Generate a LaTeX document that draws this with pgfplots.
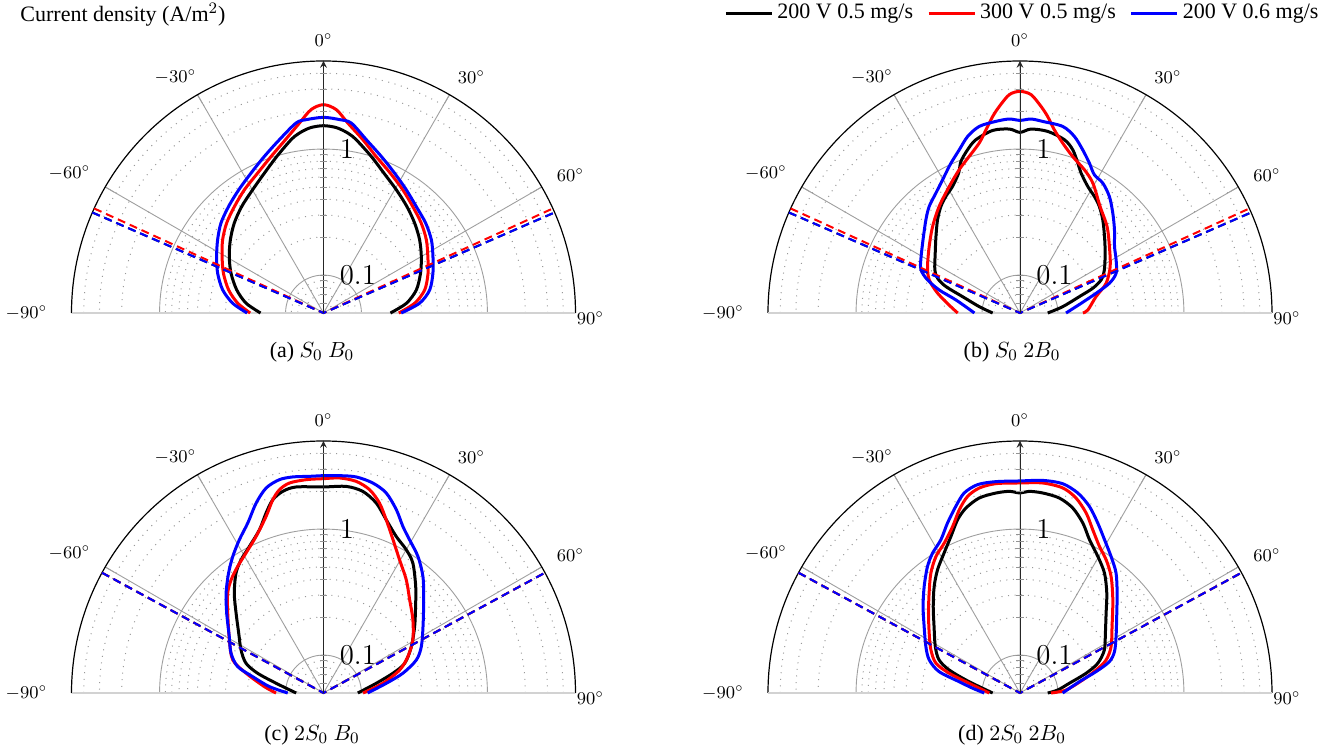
\documentclass[border=0pt]{standalone}
\usepackage{fontspec}
\setmainfont{Liberation Serif}
\usepackage{pgfplots}
\usepackage{pgfplotstable}
\pgfplotsset{compat=1.18}
\usepgfplotslibrary{polar}

% ---------- data: angle t (deg, 0 = axis, + to the right), current density r (A/m^2)
\pgfplotstableread{
t r
-90 0.158
-82.8 0.208
-75.1 0.258
-66.7 0.315
-59.1 0.372
-51.9 0.435
-44.8 0.506
-37.5 0.582
-29.9 0.672
-22.9 0.802
-16.6 0.990
-10.6 1.253
-7.6 1.381
-4 1.491
0 1.533
4 1.491
7.7 1.381
10.7 1.254
17.0 0.995
23.3 0.811
30.6 0.684
38.1 0.592
45.4 0.519
52.7 0.455
60.0 0.394
67.7 0.340
76.1 0.287
83.3 0.230
90 0.170
}\aK
\pgfplotstableread{
t r
-90 0.191
-83.5 0.242
-76.3 0.298
-68.3 0.358
-60.9 0.417
-54.1 0.487
-47.2 0.559
-39.9 0.632
-32.7 0.726
-25.2 0.844
-18.5 1.021
-12.4 1.279
-7.2 1.655
-3.5 2.070
0 2.251
3.6 2.070
7.3 1.655
12.8 1.286
18.6 1.022
25.5 0.850
32.8 0.727
40.0 0.633
47.4 0.566
54.6 0.502
61.6 0.437
69.2 0.386
77.2 0.333
83.9 0.267
90 0.198
}\aR
\pgfplotstableread{
t r
-90 0.202
-83.9 0.265
-77.1 0.331
-69.4 0.395
-62.2 0.455
-55.4 0.525
-48.8 0.604
-41.7 0.678
-34.5 0.769
-27.4 0.890
-20.7 1.065
-14.3 1.312
-8.2 1.671
-5.1 1.736
0 1.785
4.7 1.735
8.3 1.671
13.9 1.305
20.3 1.055
26.9 0.880
33.9 0.754
41.1 0.660
48.7 0.601
55.9 0.541
62.7 0.475
70.0 0.420
77.8 0.364
84.2 0.292
90 0.207
}\aB
\pgfplotstableread{
t r
-90 0.0824
-81.2 0.106
-74.1 0.149
-70.4 0.210
-67.2 0.256
-63.2 0.286
-54.8 0.333
-47.7 0.399
-41.5 0.486
-36.6 0.565
-32.5 0.624
-28.1 0.687
-23.7 0.815
-21.3 0.977
-17.8 1.148
-14.3 1.312
-8.5 1.459
-3.3 1.450
0 1.356
3.4 1.450
8.7 1.435
14.4 1.314
17.9 1.150
21.1 0.942
23.6 0.814
28.2 0.689
32.6 0.625
36.7 0.566
41.6 0.488
47.9 0.401
54.9 0.335
63.0 0.282
67.8 0.248
71.2 0.204
74.6 0.154
81.6 0.110
90 0.0830
}\bK
\pgfplotstableread{
t r
-90 0.156
-84.8 0.178
-76.5 0.235
-70.0 0.292
-63.4 0.331
-53.8 0.391
-45.3 0.473
-37.2 0.576
-29.2 0.707
-23.0 0.860
-18.0 1.012
-13.5 1.219
-10.5 1.508
-7.9 1.881
-5.7 2.223
-2.8 2.718
0 2.871
2.9 2.718
5.8 2.225
8.0 1.881
10.6 1.510
14.1 1.230
18.6 1.022
24.2 0.882
29.3 0.760
37.0 0.570
45.2 0.471
53.4 0.383
62.8 0.319
71.0 0.264
77.9 0.207
87.5 0.173
90 0.158
}\bR
\pgfplotstableread{
t r
-90 0.115
-78.5 0.165
-74.1 0.232
-70.3 0.301
-66.5 0.360
-61.8 0.391
-53.0 0.460
-45.3 0.562
-40.5 0.645
-35.1 0.726
-31.3 0.806
-27.9 0.903
-24.7 1.021
-20.4 1.206
-16.5 1.448
-12.3 1.640
-7.2 1.705
-3.2 1.742
0 1.689
3.3 1.742
6.8 1.698
12.9 1.652
17.1 1.464
21.0 1.221
24.8 1.025
28.3 0.880
32.5 0.835
37.5 0.732
42.9 0.604
48.7 0.498
54.9 0.413
61.1 0.372
67.5 0.335
71.6 0.280
75.5 0.210
81.0 0.155
90 0.116
}\bB
\pgfplotstableread{
t r
-90 0.0824
-78.4 0.121
-73.3 0.176
-69.0 0.228
-62.4 0.274
-54.8 0.333
-47.6 0.435
-41.8 0.577
-36.1 0.754
-31.7 0.876
-26.8 1.006
-21.4 1.233
-17.7 1.579
-14.7 1.927
-11.4 2.147
-7.6 2.231
0 2.159
6.3 2.231
11.0 2.135
15.5 1.837
19.9 1.450
24.9 1.173
30.0 1.029
34.5 0.893
40.9 0.656
46.8 0.503
53.9 0.393
62.2 0.307
69.9 0.243
74.1 0.187
79.6 0.133
90 0.0937
}\cK
\pgfplotstableread{
t r
-90 0.119
-83.9 0.148
-75.7 0.215
-70.0 0.292
-60.6 0.360
-50.2 0.488
-43.8 0.628
-39.2 0.722
-34.2 0.817
-29.0 0.930
-23.3 1.127
-18.0 1.489
-14.7 1.927
-12.2 2.239
-9.2 2.440
-4.6 2.499
0 2.512
4.3 2.573
8.8 2.503
12.8 2.255
16.4 1.868
19.9 1.450
24.4 1.083
29.7 0.826
36.2 0.648
42.8 0.508
50.7 0.413
59.3 0.334
66.7 0.268
73.2 0.214
80.7 0.150
90 0.103
}\cR
\pgfplotstableread{
t r
-90 0.0961
-83.3 0.135
-77.0 0.189
-72.9 0.258
-66.7 0.315
-59.1 0.372
-50.5 0.495
-44.3 0.640
-38.4 0.817
-33.6 1.000
-28.8 1.219
-24.0 1.500
-19.5 1.991
-15.6 2.449
-11.7 2.678
-8.1 2.698
-3.7 2.644
0 2.654
4.2 2.683
8.6 2.713
13.2 2.577
17.4 2.306
21.7 1.837
25.5 1.456
29.3 1.242
34.7 1.038
40.5 0.821
47.1 0.609
56.3 0.445
64.6 0.362
70.4 0.303
76.0 0.223
81.2 0.160
90 0.112
}\cB
\pgfplotstableread{
t r
-90 0.0824
-82.8 0.0995
-76.5 0.138
-72.0 0.195
-67.8 0.247
-61.3 0.292
-52.3 0.364
-45.1 0.469
-38.9 0.608
-33.8 0.751
-28.5 0.917
-23.8 1.141
-19.8 1.448
-16.3 1.692
-11.8 1.906
-6.9 1.984
-3.0 2.002
0 1.934
2.6 2.000
6.5 1.980
11.4 1.895
15.9 1.683
20.3 1.371
24.4 1.083
29.7 0.884
35.2 0.729
41.0 0.561
47.2 0.427
55.0 0.336
63.0 0.282
69.1 0.229
73.4 0.176
78.9 0.125
85.5 0.0999
90 0.0830
}\dK
\pgfplotstableread{
t r
-90 0.0877
-79.2 0.129
-74.4 0.192
-70.5 0.255
-64.2 0.305
-56.6 0.365
-48.9 0.460
-42.3 0.590
-36.6 0.768
-31.6 0.937
-26.8 1.077
-22.0 1.334
-18.3 1.705
-14.9 2.062
-11.2 2.280
-6.6 2.352
0 2.322
6.2 2.374
11.8 2.298
16.0 2.039
20.2 1.662
24.0 1.312
28.5 1.051
32.9 0.908
38.0 0.747
44.9 0.553
54.2 0.398
63.0 0.324
69.0 0.270
73.2 0.214
78.3 0.161
86.3 0.116
90 0.0882
}\dR
\pgfplotstableread{
t r
-90 0.0961
-84.3 0.119
-79.5 0.155
-75.2 0.231
-70.0 0.292
-63.8 0.340
-55.3 0.421
-48.3 0.536
-42.0 0.685
-36.2 0.876
-32.0 1.019
-27.3 1.169
-23.1 1.464
-19.0 1.841
-15.6 2.223
-11.5 2.436
-6.5 2.440
0 2.409
6.1 2.489
11.5 2.480
16.1 2.247
20.4 1.902
24.6 1.521
28.9 1.224
33.7 1.004
38.7 0.829
44.2 0.638
50.5 0.495
59.6 0.383
66.4 0.329
70.7 0.282
74.3 0.212
79.2 0.151
90 0.109
}\dB
% dashed limit lines
\pgfplotstableread{
t r
-66.5 5
-66.5 0.05
66.5 0.05
66.5 5
}\limA
\pgfplotstableread{
t r
-65.5 5
-65.5 0.05
65.5 0.05
65.5 5
}\limB
\pgfplotstableread{
t r
-61.5 5
-61.5 0.05
61.5 0.05
61.5 5
}\limC

\pgfplotsset{
  /pgfplots/table/tr/.style={x expr=90-\thisrow{t}, y expr={ln(\thisrow{r})/2.302585+1.30103}},
  pp/.style={
    scale only axis, width=252pt, height=252pt,
    xmin=0, xmax=180, ymin=0, ymax=2,
    clip=false,
    xtick={0,30,...,180},
    xticklabels={},
    ytick={0.30103,1.30103},
    yticklabels={},
    minor ytick={0.07918,0.14613,0.20412,0.25527,0.60206,0.77815,0.90309,1.0,1.07918,1.14613,1.20412,1.25527,1.60206,1.77815,1.90309},
    grid=both,
    major grid style={draw=gray!75, line width=0.45pt},
    minor grid style={draw=gray!80, line width=0.5pt, dash pattern=on 0.5pt off 2.8pt},
    x axis line style={black, line width=0.6pt},
    y axis line style={gray!35, line width=1pt},
    tick align=outside,
    major tick length=5pt,
    xtick style={gray!75, line width=0.45pt},
    ytick style={draw=none},
    minor tick length=0pt,
  },
  cur/.style={line width=1.5pt, smooth},
  dsh/.style={line width=1pt, dash pattern=on 4pt off 2.5pt, forget plot},
}

\newcommand\alab[3]{\node[font=\fontsize{8.8}{9}\selectfont, inner sep=0pt] at ([shift={(#1,#2)}]axis cs:90,0) {$#3^\circ$};}
\newcommand\decor{%
  \draw[black!85, line width=0.5pt, -stealth] (axis cs:90,0) -- (axis cs:90,2);
  \pgfplotsinvokeforeach{0.07918,0.14613,0.20412,0.25527,0.30103,0.60206,0.77815,0.90309,1.0,1.07918,1.14613,1.20412,1.25527,1.30103,1.60206,1.77815,1.90309}{%
    \draw[gray!85, line width=0.4pt] ([xshift=-1.8pt]axis cs:90,##1) -- ([xshift=1.8pt]axis cs:90,##1);}
  \node[anchor=west, inner sep=0pt, font=\fontsize{13.5}{14}\selectfont] at ([xshift=8pt]axis cs:90,1.30103) {$1$};
  \node[anchor=west, inner sep=0pt, font=\fontsize{13.5}{14}\selectfont] at ([xshift=8pt]axis cs:90,0.30103) {$0.1$};
  \alab{0pt}{136.5pt}{0}
  \alab{-74pt}{118pt}{-30}
  \alab{74pt}{118pt}{30}
  \alab{-127pt}{70pt}{-60}
  \alab{123.5pt}{69pt}{60}
  \alab{-148.5pt}{0pt}{-90}
  \alab{133.5pt}{-2.5pt}{90}
}

\begin{document}
\begin{tikzpicture}
\useasboundingbox (0,0) rectangle (670.5pt,377.5pt);

% (a)
\begin{polaraxis}[pp, at={(161.75pt,221pt)}, anchor=origin]
  \addplot[cur, black] table[tr] {\aK};
  \addplot[cur, red] table[tr] {\aR};
  \addplot[cur, blue] table[tr] {\aB};
  \addplot[dsh, black] table[tr] {\limA};
  \addplot[dsh, red] table[tr] {\limB};
  \addplot[dsh, blue] table[tr] {\limA};
  \decor
\end{polaraxis}

% (b)
\begin{polaraxis}[pp, at={(510pt,221pt)}, anchor=origin,
  legend style={draw=none, fill=none, at={(1.101,1.19)}, anchor=east, legend columns=3,
    font=\fontsize{11}{13}\selectfont, inner sep=0pt,
    /tikz/every even column/.append style={column sep=5pt}},
  legend image code/.code={\draw[#1, line width=1.5pt] (0pt,0pt) -- (23pt,0pt);}]
  \addplot[cur, black] table[tr] {\bK};
  \addlegendentry{200 V 0.5 mg/s}
  \addplot[cur, red] table[tr] {\bR};
  \addlegendentry{300 V 0.5 mg/s}
  \addplot[cur, blue] table[tr] {\bB};
  \addlegendentry{200 V 0.6 mg/s}
  \addplot[dsh, black] table[tr] {\limA};
  \addplot[dsh, red] table[tr] {\limB};
  \addplot[dsh, blue] table[tr] {\limA};
  \decor
\end{polaraxis}

% (c)
\begin{polaraxis}[pp, at={(161.75pt,31pt)}, anchor=origin]
  \addplot[cur, black] table[tr] {\cK};
  \addplot[cur, red] table[tr] {\cR};
  \addplot[cur, blue] table[tr] {\cB};
  \addplot[dsh, black] table[tr] {\limC};
  \addplot[dsh, red] table[tr] {\limC};
  \addplot[dsh, blue] table[tr] {\limC};
  \decor
\end{polaraxis}

% (d)
\begin{polaraxis}[pp, at={(510pt,31pt)}, anchor=origin]
  \addplot[cur, black] table[tr] {\dK};
  \addplot[cur, red] table[tr] {\dR};
  \addplot[cur, blue] table[tr] {\dB};
  \addplot[dsh, black] table[tr] {\limC};
  \addplot[dsh, red] table[tr] {\limC};
  \addplot[dsh, blue] table[tr] {\limC};
  \decor
\end{polaraxis}

\node[anchor=west, font=\fontsize{11}{13}\selectfont] at (6.7pt,370pt) {Current density (A/m$^2$)};
\node[font=\fontsize{11}{13}\selectfont] at (156pt,201.5pt) {(a) $S_0\ B_0$};
\node[font=\fontsize{11}{13}\selectfont] at (506pt,201.5pt) {(b) $S_0\ 2B_0$};
\node[font=\fontsize{11}{13}\selectfont] at (156pt,10pt) {(c) $2S_0\ B_0$};
\node[font=\fontsize{11}{13}\selectfont] at (506pt,10pt) {(d) $2S_0\ 2B_0$};
\end{tikzpicture}
\end{document}
